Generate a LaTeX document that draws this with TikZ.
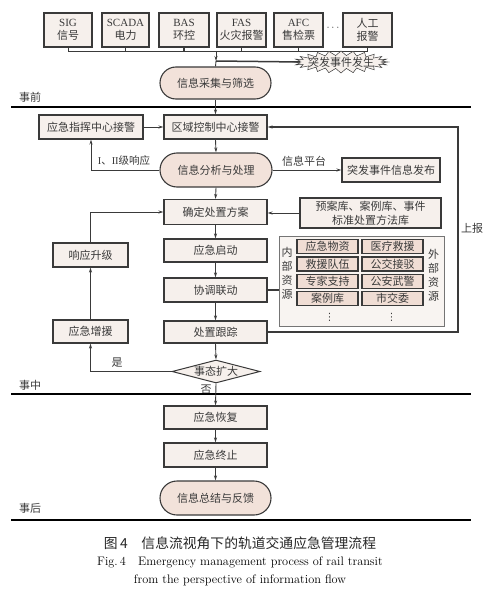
\documentclass[tikz,border=0pt]{standalone}
\usepackage{fontspec}
\newfontfamily\cjk{Noto Sans CJK SC}
\newfontfamily\tnr{Liberation Serif}
\newfontfamily\dejavu{DejaVu Sans}
\usetikzlibrary{shapes.misc,shapes.geometric,arrows.meta}
\definecolor{bd}{HTML}{3A3A3A}
\definecolor{txt}{HTML}{3A3A3A}
\definecolor{boxfill}{HTML}{F6F0EC}
\definecolor{rfill}{HTML}{F2E2DA}
\definecolor{resfill}{HTML}{F0DDD4}
\definecolor{outfill}{HTML}{F8F4F1}
\tikzset{
  cjkfont/.style={font=\cjk\fontsize{11}{13.5}\selectfont, text=txt},
  box/.style={cjkfont, draw=bd, line width=1.1pt, fill=boxfill, inner sep=0pt, align=center},
  rbox/.style={cjkfont, rounded rectangle, draw=bd, line width=1.1pt, fill=rfill, inner sep=0pt},
  resbox/.style={cjkfont, draw=bd, line width=1.1pt, fill=resfill, inner sep=0pt, minimum width=61pt, minimum height=14pt},
  judge/.style={cjkfont, diamond, draw=bd, line width=1pt, fill=boxfill, inner sep=0pt, aspect=3.8, minimum width=88pt, minimum height=23pt},
  conn/.style={draw=bd, line width=0.9pt},
  arr/.style={conn, -{Stealth[length=5pt,width=3pt]}},
  thickconn/.style={draw=bd, line width=1.5pt},
  divline/.style={draw=black, line width=1.8pt},
  lbl/.style={cjkfont, inner sep=0pt},
  vdotlbl/.style={inner sep=0pt, font=\dejavu\fontsize{10}{10}\selectfont, text=txt}
}
\begin{document}
\begin{tikzpicture}[x=1pt,y=-1pt]
\useasboundingbox (0,0) rectangle (499,602);
% top source boxes
\node[box, minimum width=48pt, minimum height=34pt] (sig) at (68,30) {{\tnr SIG}\\信号};
\node[box, minimum width=47pt, minimum height=34pt] (scada) at (125.5,30) {{\tnr SCADA}\\电力};
\node[box, minimum width=50pt, minimum height=34pt] (bas) at (184,30) {{\tnr BAS}\\环控};
\node[box, minimum width=49pt, minimum height=34pt] (fas) at (241.5,30) {{\tnr FAS}\\火灾报警};
\node[box, minimum width=49pt, minimum height=34pt] (afc) at (298.5,30) {{\tnr AFC}\\售检票};
\node[lbl] (dots) at (333,28) {$\cdots$};
\node[box, minimum width=49pt, minimum height=34pt] (ren) at (367.5,30) {人工\\报警};
% bus
\coordinate (busl) at (68,51);
\coordinate (busr) at (367.5,51);
\coordinate (busc) at (216,51);
\coordinate (jn) at (216,61);
\draw[conn] (sig.south) -- (busl) -- (busr) -- (ren.south);
\foreach \n in {scada,bas,fas,afc}{\draw[conn, line width=1.3pt] (\n.south) -- (\n.south |- busl);}
% burst
\draw[draw=bd, line width=0.5pt, fill=boxfill]
  plot[samples at={0,7.5,...,352.5}, variable=\t]
  ({341 + (mod(round(\t/7.5),2)==0 ? 47 : 41)*cos(\t)}, {62 + (mod(round(\t/7.5),2)==0 ? 11 : 6.5)*sin(\t)}) -- cycle;
\node[lbl] (evt) at (341,62) {突发事件发生};
\node[rbox, minimum width=111pt, minimum height=32pt] (collect) at (215.5,83) {信息采集与筛选};
\draw[arr] (busc) -- (jn);
\draw[conn] (jn) -- (collect.north);
\draw[thickconn] ([xshift=-41pt]evt.center) -- (jn);
% phase 1
\node[lbl] (pre) at (30,97) {事前};
\draw[divline] (11,107) -- (471,107);
\node[box, minimum width=103pt, minimum height=24pt] (region) at (215.5,127) {区域控制中心接警};
\node[box, minimum width=104pt, minimum height=24pt] (cmd) at (91,127) {应急指挥中心接警};
\node[rbox, minimum width=112pt, minimum height=34pt] (analysis) at (216,170) {信息分析与处理};
\node[box, minimum width=98pt, minimum height=24pt] (publish) at (391,170) {突发事件信息发布};
\node[box, minimum width=103pt, minimum height=25pt] (plan) at (215.5,212) {确定处置方案};
\node[box, minimum width=141pt, minimum height=30pt, font=\cjk\fontsize{11}{14}\selectfont] (lib) at (370.5,213) {预案库、案例库、事件\\标准处置方法库};
\node[box, minimum width=103pt, minimum height=23pt] (start) at (215.5,250.5) {应急启动};
\node[box, minimum width=103pt, minimum height=24pt] (coord) at (215.5,290) {协调联动};
\node[box, minimum width=103pt, minimum height=22pt] (track) at (215.5,332) {处置跟踪};
\node[box, minimum width=75pt, minimum height=24pt] (upgrade) at (90.5,255) {响应升级};
\node[box, minimum width=75pt, minimum height=23pt] (reinforce) at (90.5,331.5) {应急增援};
\node[judge] (judge) at (216,371.5) {事态扩大};
% resources
\node[draw=bd!70, line width=0.8pt, fill=outfill, minimum width=165pt, minimum height=90pt, inner sep=0pt] (res) at (361.5,281) {};
\node[lbl, align=center, font=\cjk\fontsize{11}{14}\selectfont] (inner) at (287,273) {内\\部\\资\\源};
\node[lbl, align=center, font=\cjk\fontsize{11}{14}\selectfont] (outer) at (433.5,275) {外\\部\\资\\源};
\node[resbox] (r11) at (327.5,246.5) {应急物资};
\node[resbox] (r21) at (327.5,264) {救援队伍};
\node[resbox] (r31) at (327.5,281.5) {专家支持};
\node[resbox] (r41) at (327.5,298.5) {案例库};
\node[resbox] (r12) at (392.5,246.5) {医疗救援};
\node[resbox] (r22) at (392.5,264) {公交接驳};
\node[resbox] (r32) at (392.5,281.5) {公安武警};
\node[resbox] (r42) at (392.5,298.5) {市交委};
\node[vdotlbl] (vd1) at (329.5,317) {⋮};
\node[vdotlbl] (vd2) at (391.5,317) {⋮};
% connectors
\draw[arr] (collect.south) -- (region.north);
\draw[arr] (cmd.east) -- (region.west);
\draw[arr] (region.south) -- (analysis.north);
\draw[arr] (analysis.west) -| (cmd.south);
\node[lbl, font=\cjk\fontsize{10.5}{12}\selectfont] (lv) at (124,161) {{\tnr I}、{\tnr II}级响应};
\draw[arr] (analysis.east) -- (publish.west);
\node[lbl] (plat) at (304,161) {信息平台};
\draw[arr] (analysis.south) -- (plan.north);
\draw[arr] (lib.west) -- (plan.east |- lib.west);
\draw[arr] (plan.south) -- (start.north);
\draw[arr] (start.south) -- (coord.north);
\draw[arr] (coord.south) -- (track.north);
\draw[arr] (track.south) -- (judge.north);
\draw[thickconn] (coord.east) -- (res.west |- coord.east);
\draw[arr] (upgrade.north) |- (plan.west);
\draw[arr, line width=1.4pt] (reinforce.north) -- (upgrade.south);
\draw[arr] (judge.west) -| (reinforce.south);
\node[lbl] (yes) at (117,363) {是};
\coordinate (rp) at (458,332);
\draw[arr, line width=1.2pt] (track.east) -- (rp) |- (region.east);
\node[lbl] (rep) at (472,228) {上报};
% phase 2
\node[lbl] (no) at (206,390) {否};
\node[lbl] (mid) at (30,385) {事中};
\draw[divline] (11,394) -- (471,394);
\node[box, minimum width=103pt, minimum height=23pt] (recover) at (215.5,417.5) {应急恢复};
\node[box, minimum width=103pt, minimum height=24pt] (stop) at (215.5,455) {应急终止};
\node[rbox, minimum width=111pt, minimum height=34pt] (summary) at (215.5,498) {信息总结与反馈};
\draw[arr] (judge.south) -- (recover.north);
\draw[arr] (recover.south) -- (stop.north);
\draw[arr] (stop.south) -- (summary.north);
\node[lbl] (post) at (30,508) {事后};
\draw[divline] (11,520) -- (471,520);
% caption
\node[inner sep=0pt, font=\cjk\fontsize{13.8}{16}\selectfont, text=black!85] (cap1) at (240,543) {图\,4\quad 信息流视角下的轨道交通应急管理流程};
\node[inner sep=0pt, font=\fontsize{12.3}{14}\selectfont, text=black] (cap2) at (240,562) {Fig.\,4\quad Emergency management process of rail transit};
\node[inner sep=0pt, font=\fontsize{12.3}{14}\selectfont, text=black] (cap3) at (240,580) {from the perspective of information flow};
\end{tikzpicture}
\end{document}
